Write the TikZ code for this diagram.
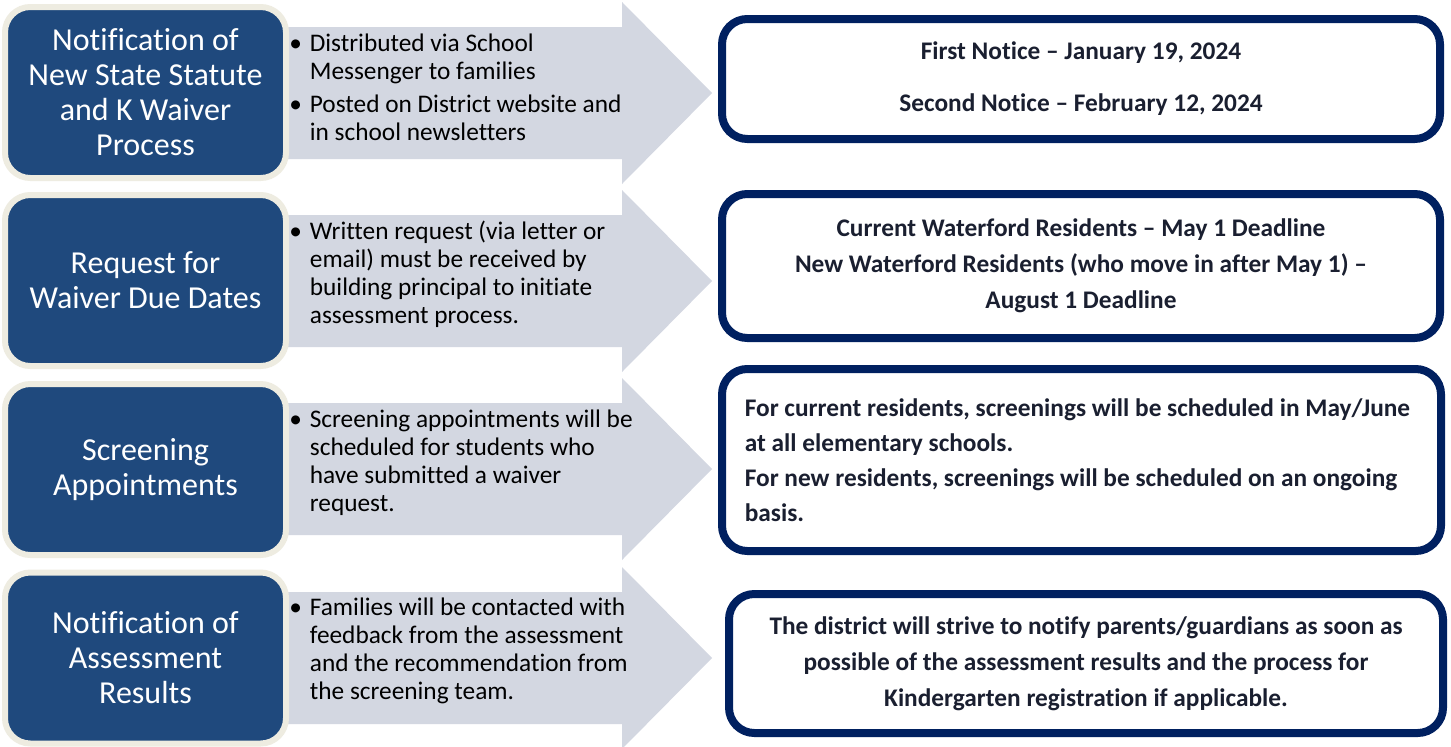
\documentclass[tikz,border=0pt]{standalone}
\usepackage{fontspec}
\setmainfont{Carlito}[Ligatures={TeX,NoCommon}]
\usepackage{xcolor}
\usepackage{tikz}

\definecolor{stageblue}{RGB}{31,73,125}
\definecolor{stagerim}{RGB}{238,236,225}
\definecolor{arrowgray}{RGB}{211,215,225}
\definecolor{navyline}{RGB}{0,32,96}
\definecolor{datetext}{RGB}{26,31,48}

\tikzset{
    stagebox/.style={rounded corners=19pt, fill=stageblue, draw=stagerim, line width=4.5pt, minimum width=210.75pt, minimum height=128.25pt, inner sep=0pt, text=white, align=center, font=\fontsize{24}{26.25}\selectfont},
    datebox/.style={rounded corners=19pt, draw=navyline, line width=6pt, fill=white, inner sep=0pt, text=datetext, font=\bfseries\fontsize{19}{27}\selectfont},
    bulletnote/.style={anchor=base west, inner sep=0pt, font=\fontsize{19}{21}\selectfont},
    bigarrow/.style={fill=arrowgray, draw=none}
}

\begin{document}
\begin{tikzpicture}[x=0.75pt,y=0.75pt,yscale=-1,xscale=1]
            \path[use as bounding box, fill=white] (0,0) rectangle (1451,746);

            %Shape: Right Arrow
            \fill[bigarrow] (280,27) -- (622,27) -- (622,2) -- (712,93) -- (622,184) -- (622,159) -- (280,159) -- cycle ;
            %Shape: Right Arrow
            \fill[bigarrow] (280,215) -- (622,215) -- (622,190) -- (712,281) -- (622,372) -- (622,347) -- (280,347) -- cycle ;
            %Shape: Right Arrow
            \fill[bigarrow] (280,403) -- (622,403) -- (622,378) -- (712,469) -- (622,560) -- (622,535) -- (280,535) -- cycle ;
            %Shape: Right Arrow
            \fill[bigarrow] (280,592) -- (622,592) -- (622,567) -- (712,658) -- (622,749) -- (622,724) -- (280,724) -- cycle ;

            %Shape: Rounded Rect
            \node[stagebox] (stage1) at (145.5,92.5) {Notification of\\New State Statute\\and K Waiver\\Process};
            %Shape: Rounded Rect
            \node[stagebox] (stage2) at (145.5,280.5) {Request for\\Waiver Due Dates};
            %Shape: Rounded Rect
            \node[stagebox] (stage3) at (145.5,469.5) {Screening\\Appointments};
            %Shape: Rounded Rect
            \node[stagebox] (stage4) at (145.5,658) {Notification of\\Assessment\\Results};

            % Text Node
            \node[bulletnote] (note1) at (289,51) {\begin{tabular}[t]{@{}l@{\hspace{6pt}}l@{}}\textbullet & Distributed via School\\ & Messenger to families\\[4pt] \textbullet & Posted on District website and\\ & in school newsletters\end{tabular}};
            % Text Node
            \node[bulletnote] (note2) at (289,239) {\begin{tabular}[t]{@{}l@{\hspace{6pt}}l@{}}\textbullet & Written request (via letter or\\ & email) must be received by\\ & building principal to initiate\\ & assessment process.\end{tabular}};
            % Text Node
            \node[bulletnote] (note3) at (289,427) {\begin{tabular}[t]{@{}l@{\hspace{6pt}}l@{}}\textbullet & Screening appointments will be\\ & scheduled for students who\\ & have submitted a waiver\\ & request.\end{tabular}};
            % Text Node
            \node[bulletnote] (note4) at (289,615) {\begin{tabular}[t]{@{}l@{\hspace{6pt}}l@{}}\textbullet & Families will be contacted with\\ & feedback from the assessment\\ & and the recommendation from\\ & the screening team.\end{tabular}};

            %Shape: Rounded Rect
            \node[datebox, minimum width=538.5pt, minimum height=90pt, align=center] (due1) at (1081,79) {First Notice – January 19, 2024\\[12pt]Second Notice – February 12, 2024};
            %Shape: Rounded Rect
            \node[datebox, minimum width=538.5pt, minimum height=108pt, align=center] (due2) at (1081,266) {Current Waterford Residents – May 1 Deadline\\New Waterford Residents (who move in after May 1) –\\August 1 Deadline};
            %Shape: Rounded Rect
            \node[datebox, minimum width=539.25pt, minimum height=136.5pt, text width=505pt, align=flush left, font=\bfseries\fontsize{19}{26.25}\selectfont] (due3) at (1081.5,460) {For current residents, screenings will be scheduled in May/June\\at all elementary schools.\\For new residents, screenings will be scheduled on an ongoing\\basis.};
            %Shape: Rounded Rect
            \node[datebox, minimum width=535.5pt, minimum height=104.25pt, align=center] (due4) at (1086,663.5) {The district will strive to notify parents/guardians as soon as\\possible of the assessment results and the process for\\Kindergarten registration if applicable.};
\end{tikzpicture}
\end{document}
